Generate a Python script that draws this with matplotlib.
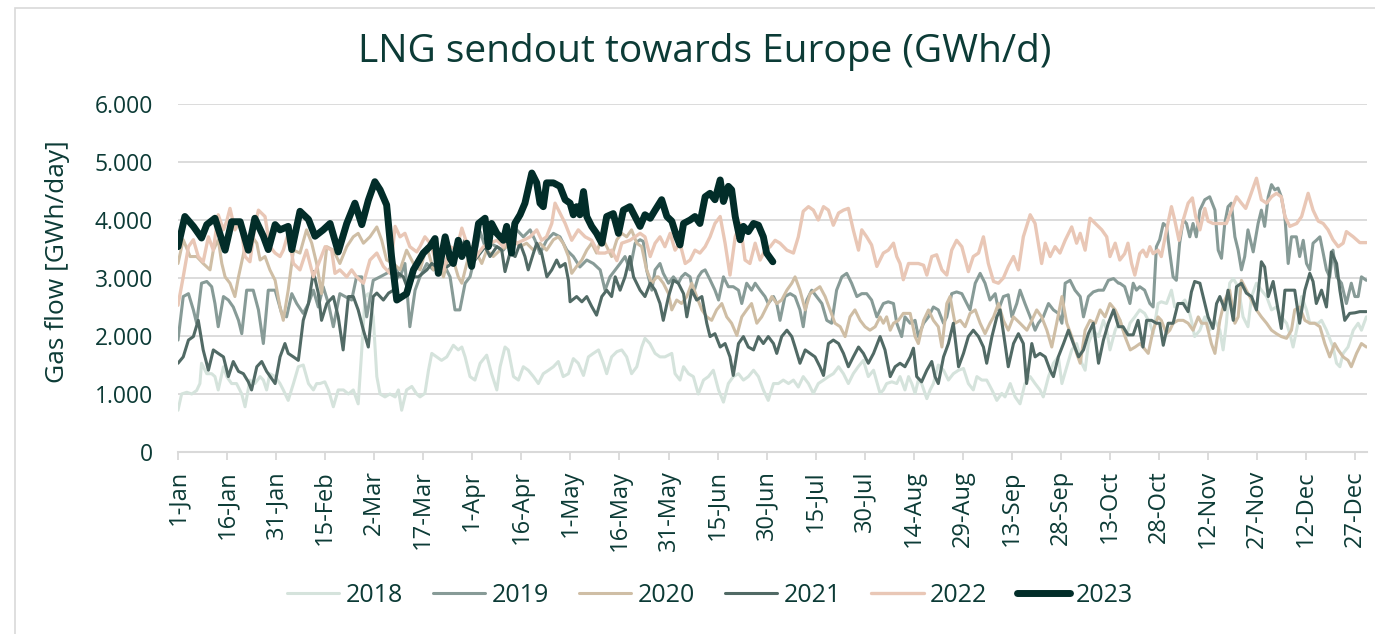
import matplotlib
matplotlib.use("Agg")
import matplotlib.pyplot as plt
from matplotlib.patches import Rectangle
from matplotlib.ticker import FuncFormatter

plt.rcParams['font.family'] = ['Open Sans', 'DejaVu Sans']

# day of year (0 = 1-Jan) and sendout in GWh/d
days_2018 = [0, 1.1, 2.7, 4.2, 5.7, 6.7, 7.2, 8.8, 10.3, 11.3, 12.3, 13.9, 14.9, 16.4, 17.9, 19.5, 20.5, 22, 23.5, 25.1,
             26.1, 27.1, 28.1, 29.7, 31.2, 32.2, 33.7, 35.3, 36.8, 38.3, 39.9, 41.4, 42.4, 43.4, 44.9, 46, 47.5, 49, 50.6, 52.1,
             53.6, 55.1, 56.2, 57.2, 58.2, 59.7, 60.8, 61.8, 63.3, 64.8, 66.4, 67.4, 68.4, 69.9, 71.5, 73, 74,
             75.5, 76.6, 77.6, 79.1, 80.6, 82.2, 84.2, 85.7, 86.8, 87.8, 89.3, 90.8, 92.4, 94.4, 95.9, 97.5, 98.5, 100, 101, 102.6,
             104.1, 105.6, 107.1, 108.7, 110.2, 111.7, 113.3, 114.8, 116.3, 117.8, 119.4, 120.9, 122.4, 124, 125.5, 127, 128.6, 130.1, 131.1, 132.6,
             134.2, 135.7, 137.2, 138.7, 140.3, 141.8, 142.8, 144.3, 145.9, 147.4,
             148.9, 151, 152, 153.5, 154.6, 156.1, 157.6, 159.1, 160.7, 162.2, 163.7, 165.3, 166.8, 168.3, 169.8, 171.4, 172.9, 174.4, 176, 177.5,
             179, 180.5, 182.1, 183.6, 185.1, 186.7, 188.2, 189.7, 191.2, 192.8, 194.3, 195.8, 197.4, 198.9, 200.4, 202, 203.5, 205, 206.5, 208,
             209.6, 211.1, 212.7,
             214.7, 215.7, 216.7, 218.3, 219.8, 220.8, 222.3, 223.4, 224.4, 225.4, 226.4, 227.4, 229, 230, 231, 232.5, 234.1, 235.6, 237.1, 238.7,
             240.2, 241.7, 243.2, 244.3, 245.8, 247.3, 248.9, 250.4, 251.9, 252.9, 254.5, 256, 257.5, 259, 260.6, 262.1, 263.6, 264.6, 266.2, 267.7,
             269.2, 270.3, 271.8, 273.3, 274.8, 276.4, 277.4, 278.4, 279.9, 281.5, 283, 284, 285, 286.6, 288.1,
             289, 290, 291.1, 292.6, 294.1, 295.6, 297.2, 298.2, 299.7, 300.7, 302.3, 303.8, 304.8, 305.8, 306.9, 307.9, 308.9, 309.9, 310.9, 312.5,
             314, 315.5, 317.1, 318.6, 319.6, 320.6, 321.6, 322.7, 324.2, 325.7, 327.2, 328.3, 329.8, 331.3, 332.9, 334.4, 335.9, 337.4, 339, 340,
             341, 342.5, 343.6, 345.1, 346.1, 347.6, 348.7, 349.7, 351.2, 353.2, 354.3, 355.3, 356.3, 357.8, 359.4, 360.9, 361.9, 363.4]
gwh_2018 = [720, 1000, 1030, 1000, 1060, 1180, 1530, 1350, 1350, 1300, 1070, 1470, 1300, 1180, 1180, 1000, 780, 1240, 1180, 1300,
            1240, 1070, 1350, 1300, 1180, 1070, 890, 1180, 1470, 1500, 1180, 1070, 1180, 1180, 1210, 1070, 780, 1070, 1070, 1000,
            1070, 830, 1760, 2680, 2730, 2330, 1300, 1000, 950, 1000, 950, 1070, 720, 1070, 1130, 1000, 950,
            1010, 1410, 1700, 1640, 1580, 1640, 1840, 1760, 1810, 1640, 1300, 1240, 1530, 1670, 1350, 1070, 1470, 1810, 1760, 1300,
            1240, 1470, 1410, 1300, 1180, 1350, 1410, 1470, 1560, 1300, 1350, 1610, 1530, 1320, 1640, 1700, 1760, 1530, 1350, 1640,
            1730, 1760, 1640, 1350, 1470, 1810, 1960, 1870, 1700, 1640,
            1640, 1700, 1350, 1240, 1470, 1350, 1300, 1000, 1240, 1300, 1410, 1070, 860, 1180, 1300, 1350, 1240, 1300, 1410, 1300,
            1070, 890, 1180, 1180, 1240, 1180, 1240, 1120, 1300, 1180, 1010, 1180, 1240, 1300, 1350, 1470, 1350, 1180, 1350, 1470,
            1580, 1300, 1410,
            1010, 1070, 1180, 1210, 1180, 1300, 1070, 1300, 1180, 1010, 1240, 1180, 920, 1070, 1180, 1500, 1410, 1240, 1350, 1410,
            1440, 1180, 1070, 1300, 1240, 1240, 1070, 890, 1010, 950, 1180, 950, 830, 1180, 1300, 1180, 1070, 950, 1300, 1530,
            1640, 1180, 1470, 1760, 1870, 1530, 1410, 1870, 2100, 1990, 2270, 2100, 1760, 2100, 2270,
            2100, 1990, 2220, 2330, 2450, 2390, 2220, 2040, 2560, 2590, 2560, 2790, 2500, 2560, 2560, 2620, 2500, 2270, 1990, 2100,
            2330, 2100, 2270, 2100, 1760, 2220, 2910, 2990, 2850, 2330, 2160, 2680, 2910, 2790, 2680, 2450, 2500, 2330, 2220, 2040,
            1810, 2220, 2680, 2450, 2220, 2220, 2220, 2270, 2100, 1810, 1530, 1470, 1700, 1810, 2100, 2220, 2100, 2330]

days_2019 = [0, 1.6, 3.2, 4.7, 5.7, 7.2, 8.8, 10.3, 11.3, 12.3, 13.9, 15.4, 16.9, 18.5, 19.5, 21, 23, 24.6, 26.1, 27.6,
             29.7, 31.7, 33.2, 34.8, 36.3, 38.3, 39.9, 41.4, 42.9, 44.4, 46, 47.5, 49.5, 51.1, 53.1, 54.6, 56.2, 57.7, 59.7, 61.8,
             63.8, 65.9, 67.9, 69.4, 70.9, 72.5, 74,
             76.1, 78.1, 80.1, 81.7, 83.2, 84.7, 86.2, 87.8, 89.3, 90.8, 92.4, 93.9, 95.4, 97.5, 99.5, 101.5, 103.6, 105.6, 107.7, 109.2,
             110.7, 112.7, 114.8, 116.8, 118.9, 120.9, 122.9, 125, 127, 129.1, 130.6, 132.1, 133.7, 135.2, 136.7, 138.2, 139.8,
             141.3, 142.3, 143.3, 144.9, 145.9, 147.4, 148.4, 150, 151.5, 153, 154, 155.1, 156.6, 157.6, 159.1, 160.2, 161.2, 162.7, 164.2, 165.3,
             166.8, 168.3, 169.8, 171.4, 172.4, 173.9, 175.4, 176.5, 178, 179.5, 180.5, 182.1, 183.1, 184.1, 185.6, 187.2, 188.7, 190.2, 191.2, 192.3,
             193.8, 195.3, 196.9, 198.4, 199.9, 201.4, 203, 204.5, 206, 207.6, 209.1, 210.6, 212.1, 213.7,
             214.7, 215.7, 217.2, 218.8, 219.8, 221.3, 222.3, 223.9, 225.4, 226.4, 228, 229.5, 231, 232.5, 234.1, 235.1, 236.6, 238.1, 239.7, 241.2,
             242.2, 243.8, 245.3, 246.8, 248.3, 249.9, 250.9, 252.4, 253.9, 255, 256.5, 257.5, 259, 260.6, 262.1, 263.1, 264.6, 266.2, 267.7, 269.2,
             270.3, 271.3, 272.8, 274.3, 275.9, 276.9, 278.4, 279.9, 281.5, 283, 284.5, 286.1, 287.6,
             288, 289.5, 291.1, 292.1, 293.1, 294.1, 295.6, 297.2, 298.2, 299.2, 300.2, 301.3, 302.3, 303.3, 304.3, 305.3, 306.3, 307.4, 308.4, 309.4,
             310.4, 311.4, 312.5, 314, 315.5, 317.1, 318.1, 319.1, 320.1, 321.1, 322.1, 323.2, 324.2, 325.2, 326.2, 327.2, 328.8, 330.3, 331.3, 332.3,
             333.4, 334.4, 335.4, 336.4, 337.4, 338.5, 339.5, 340.5, 342, 343, 344.1, 345.1, 346.1, 347.1, 348.1, 349.2, 350.2, 351.2, 352.2, 353.2,
             354.3, 355.8, 357.3, 358.8, 359.9, 360.9, 361.9, 363.4]
gwh_2019 = [1930, 2680, 2730, 2450, 2220, 2910, 2940, 2850, 2560, 2160, 2680, 2620, 2500, 2270, 2040, 2790, 2790, 2450, 1870, 2790,
            2790, 2390, 2330, 2730, 2560, 2390, 2560, 2790, 2500, 2850, 2560, 2160, 2730, 2680, 2620, 3020, 3020, 2330, 2960, 3020,
            3080, 3250, 3020, 3250, 2160, 2790, 3020,
            3250, 3140, 3250, 3190, 3020, 2450, 2450, 2910, 3020, 3370, 3800, 3540, 3600, 3540, 3480, 3650, 3830, 3710, 3830, 3650,
            3420, 3650, 3770, 3710, 3480, 3370, 3190, 3310, 3250, 3140, 2790, 3020, 3140, 3250, 3370, 3140, 3600,
            3660, 3630, 3140, 2790, 3140, 3250, 3080, 2910, 3020, 2910, 3020, 3080, 3020, 2730, 3020, 3110, 3140, 2970, 2790, 2620,
            3020, 2850, 2850, 2790, 2560, 2910, 2790, 2910, 2790, 2680, 2560, 2680, 2560, 2270, 2680, 2730, 2680, 2450, 2160, 2620,
            2790, 2680, 2560, 2270, 2220, 2790, 3020, 3080, 2910, 2680, 2730, 2730, 2620, 2330,
            2450, 2560, 2590, 2560, 2220, 1990, 2330, 2220, 2270, 1990, 2220, 2330, 2500, 2450, 2220, 2330, 2730, 2760, 2730, 2560,
            2450, 2910, 3080, 2910, 2620, 2730, 2450, 2680, 2710, 2330, 2560, 2790, 2560, 2330, 2100, 2220, 2330, 2560, 2450, 2390,
            2220, 2910, 2960, 2790, 2680, 2330, 2680, 2760, 2790, 2790, 2960, 2990, 2910,
            2910, 2850, 2560, 2910, 2790, 2850, 2790, 2560, 2500, 3540, 3660, 3940, 3890, 3430, 3020, 2960, 3600, 4000, 3940, 3710,
            3940, 3710, 4170, 4350, 4400, 4170, 3480, 3340, 3940, 4230, 4290, 3710, 3480, 3140, 3370, 3830, 3450, 3940, 4170, 3890,
            4400, 4610, 4520, 4550, 4400, 4060, 3250, 3710, 3710, 3370, 3650, 3250, 3140, 3600, 3650, 3710, 3430, 3140, 3020, 3480,
            3020, 2910, 2560, 2910, 2680, 2680, 3020, 2960]

days_2020 = [0, 1.6, 3.7, 5.7, 7.7, 9.8, 10.8, 12.3, 13.4, 14.4, 15.9, 17.4, 18.5, 20.5, 22, 24.1, 25.1, 26.6, 28.1, 29.7,
             31.2, 32.2, 33.7, 35.3, 37.3, 39.3, 40.9, 42.4, 43.9, 45.5, 47.5, 49.5, 51.6, 53.6, 55.1, 56.7, 58.7, 60.8, 62.3, 63.8,
             65.9, 67.9, 69.9, 72, 74,
             76.1, 78.1, 79.6, 81.2, 82.7, 84.2, 85.7, 86.8, 88.3, 89.8, 91.3, 92.9, 94.4, 96.4, 98.5, 100.5, 102.6, 104.6, 106.6, 108.7,
             110.7, 112.7, 114.8, 116.3, 117.8, 119.4, 120.4, 121.9, 123.5, 125, 126.5, 128, 129.6, 131.1, 132.6, 134.2, 135.7, 137.2, 138.7, 140.3,
             141.8, 143.3, 144.9, 146.4,
             146.9, 148.4, 150, 151, 152.5, 154, 155.6, 157.1, 158.6, 160.2, 161.7, 163.2, 164.7, 166.3, 167.8, 169.3, 170.9, 172.4, 173.9, 175.4,
             177, 178.5, 180, 181.6, 183.1, 184.6, 186.2, 187.7, 188.7, 190.2, 191.8, 193.3, 194.8, 196.3, 197.9, 199.4, 200.9, 202.5, 204, 205.5,
             207, 208.6, 210.1, 211.6, 213.2,
             214.7, 215.7, 216.7, 217.8, 218.8, 220.3, 221.8, 223.9, 225.4, 226.4, 228, 229.5, 231, 232.5, 233.6, 235.1, 236.1, 237.6, 239.2, 240.7,
             242.2, 243.8, 245.3, 246.8, 248.3, 249.4, 250.9, 252.4, 253.9, 255.5, 257.5, 259.6, 261.1, 262.6, 264.1, 265.7, 267.2, 268.7, 270.3, 271.8,
             273.3, 274.8, 275.9, 277.4, 278.9, 280.5, 282, 283.5, 285, 286.6, 288.1, 289.6, 291.2, 292.7, 294.2,
             295.1, 296.7, 298.2, 299.7, 300.7, 302.3, 303.3, 304.3, 305.8, 307.4, 308.9, 310.4, 312, 313, 314.5, 316, 317.1, 318.6, 320.1, 321.6,
             323.2, 324.2, 325.2, 326.7, 328.3, 329.8, 331.3, 332.9, 334.4, 335.9, 337.4, 339, 340.5, 341.5, 343, 344.6, 346.1, 347.6, 349.2, 350.7,
             352.2, 353.7, 354.8, 356.3, 357.8, 358.8, 360.4, 361.9, 363.4]
gwh_2020 = [3250, 3660, 3370, 3370, 3250, 3140, 3480, 3660, 3250, 3020, 2910, 2680, 3020, 3540, 3770, 3600, 3310, 3370, 3140, 2960,
            2500, 2270, 2790, 3480, 3430, 3830, 3600, 3250, 2730, 3540, 3480, 3250, 3540, 3710, 3770, 3600, 3710, 3880, 3650, 3310,
            3250, 3140, 3480, 3250, 3140,
            3540, 3140, 3250, 3020, 3370, 3310, 3020, 2910, 3250, 3540, 3430, 3250, 3480, 3370, 3480, 3540, 3660, 3540, 3600, 3480,
            3600, 3480, 3660, 3710, 3600, 3370, 3080, 3200, 3310, 3480, 3600, 3430, 3710, 3540, 3370, 3660, 3770, 3710, 3830, 3600,
            3540, 3140, 2910, 3020,
            3020, 2910, 2730, 2450, 2620, 2560, 2680, 2910, 2680, 2450, 2330, 2270, 2450, 2560, 2330, 2220, 2010, 2330, 2450, 2560,
            2220, 2330, 2500, 2680, 2560, 2620, 2790, 2910, 3020, 2790, 2450, 2730, 2790, 2850, 2680, 2450, 2220, 2160, 1990, 2330,
            2450, 2270, 2160, 2100, 2160,
            2330, 2220, 2330, 2100, 2220, 2270, 2390, 2390, 1990, 1870, 2270, 2450, 2270, 2160, 1810, 2560, 2680, 2220, 2270, 2160,
            2390, 2450, 2220, 2040, 2220, 2330, 2560, 2270, 2100, 2330, 2220, 2100, 2270, 2450, 2330, 2100, 1810, 2220, 2680, 2220,
            1990, 1700, 1530, 2100, 2270, 2220, 2450, 2330, 2560, 2450, 2270, 1990, 1760, 1810, 1870,
            1810, 1700, 2100, 2330, 2270, 2040, 2100, 2220, 2270, 2270, 2220, 2100, 2330, 2220, 2220, 1870, 1700, 2270, 2620, 2790,
            2220, 2330, 2960, 2790, 2620, 2450, 2330, 2220, 2100, 2040, 1990, 1960, 2100, 2450, 2500, 2270, 2220, 2220, 2160, 1870,
            1640, 1870, 1760, 1640, 1580, 1470, 1700, 1870, 1810]

days_2021 = [0, 1.6, 3.2, 4.7, 6.2, 7.7, 9.3, 10.8, 12.3, 13.9, 15.4, 16.9, 18.5, 20, 21.5, 22.5, 24.1, 25.6, 27.1, 29.7,
             31.2, 32.7, 33.7, 35.3, 36.8, 38.3, 39.9, 41.4, 42.9, 43.9, 45.5, 47.5, 49, 50.5, 52.1, 53.6, 55.1, 56.7, 58.2, 59.7,
             60.8, 62.8, 64.4, 65.9, 67.4, 68.9, 70.4, 72, 73.5,
             76.1, 77.6, 79.1, 80.6, 82.2, 83.7, 84.7, 86.2, 87.8, 89.3, 90.8, 92.4, 93.9, 95.4, 97.5, 99, 100, 101.5, 103.1, 104.6,
             106.1, 107.1, 108.7, 109.7, 111.2, 112.8, 114.3, 115.8, 116.8, 118.4, 119.4, 119.9, 121.9, 123.5, 125, 126.5, 128, 129.6, 131.1, 132.6,
             133.7, 135.2, 136.7, 138.2, 139.3,
             141.3, 142.8, 144.4, 145.9, 147.4, 148.4, 150, 151.5, 153, 154.6, 155.6, 157.1, 158.6, 160.2, 161.7, 162.7, 164.2, 165.8, 167.3, 168.8,
             169.8, 171.4, 172.9, 174.4, 176, 177.5, 179, 180.5, 182.1, 183.1, 184.6, 186.2, 187.7, 188.7, 190.2, 191.8, 193.3, 194.8, 196.3, 197.4,
             198.9, 200.4, 202, 203.5, 205, 206.5, 208.1, 209.6, 211.1, 212.7,
             214.7, 216.2, 217.8, 219.3, 220.8, 222.3, 223.9, 224.9, 225.9, 227.4, 229, 230.5, 231.5, 232.5, 234.1, 235.6, 237.1, 238.7, 240.2, 241.7,
             243.2, 244.8, 246.3, 247.3, 248.9, 250.4, 251.4, 252.9, 253.9, 255.5, 257, 258.5, 259.5, 261.1, 262.1, 263.6, 265.2, 266.7, 267.7, 269.2,
             270.8, 272.3, 273.8, 275.4, 276.9, 278.4, 279.9, 281.5, 283, 284.5, 286.1, 287.6,
             289, 290.5, 292.1, 293.6, 295.1, 296.2, 297.7, 299.2, 300.2, 301.3, 302.8, 304.3, 305.8, 307.4, 308.9, 309.9, 310.9, 312.5, 314, 315,
             316.5, 317.6, 318.6, 320.1, 321.1, 322.7, 323.7, 325.2, 326.7, 328.3, 329.8, 331.3, 332.3, 333.4, 334.9, 336.4, 337.4, 338.5, 340, 341.5,
             343, 344.6, 346.1, 347.1, 348.1, 349.7, 351.2, 352.7, 354.3, 355.3, 356.8, 358.3, 359.9, 361.4, 363.4]
gwh_2021 = [1530, 1640, 1930, 1990, 2270, 1760, 1410, 1760, 1700, 1640, 1300, 1560, 1390, 1350, 1210, 1070, 1470, 1560, 1390, 1180,
            1640, 1870, 1700, 1640, 1580, 2270, 2560, 3110, 2740, 2270, 2560, 2680, 2330, 1760, 2680, 2680, 2450, 2100, 1810, 2680,
            2740, 2620, 2740, 2790, 3080, 3020, 2790, 3020, 3020,
            3140, 3250, 3190, 3310, 3190, 3250, 3370, 3480, 3660, 3370, 3310, 3430, 3540, 3370, 3540, 3480, 3110, 3430, 3370, 3600,
            3370, 3140, 3430, 3600, 3430, 3020, 3140, 3310, 3190, 3250, 2960, 2590, 2680, 2590, 2680, 2510, 2360, 2680, 2790, 2680,
            3020, 2790, 3020, 3370, 3020,
            2790, 2680, 2910, 2790, 2560, 2270, 2680, 2960, 2910, 2730, 2330, 2790, 2620, 2680, 2220, 1990, 2040, 1810, 1870, 1640,
            1320, 1870, 1990, 1810, 1760, 1990, 1870, 1990, 1870, 1700, 1990, 2100, 1990, 1810, 1530, 1760, 1700, 1640, 1470, 1320,
            1870, 1930, 1870, 1700, 1470, 1640, 1810, 1700, 1530, 1700,
            1990, 1760, 1300, 1470, 1530, 1470, 1640, 1790, 1300, 1210, 1410, 1560, 1300, 1180, 1640, 1870, 2220, 1470, 1700, 1990,
            2100, 1990, 1810, 1530, 1990, 2330, 2450, 1870, 1470, 1870, 2040, 1870, 1180, 1870, 1640, 1700, 1640, 1410, 1300, 1640,
            1870, 2100, 1870, 1640, 1760, 2040, 2220, 1530, 1930, 2220, 2450, 2160,
            2160, 2020, 2020, 2270, 1810, 2270, 2270, 2220, 2220, 1840, 2220, 2220, 2560, 2560, 2420, 2760, 2940, 2910, 2560, 2330,
            2130, 2560, 2680, 2450, 2790, 2270, 2850, 2910, 2740, 2680, 2450, 3280, 3190, 2680, 2940, 2450, 2130, 2790, 2790, 2790,
            2220, 2790, 3080, 2940, 2560, 2790, 2500, 3450, 3250, 2790, 2270, 2390, 2400, 2420, 2420]

days_2022 = [0, 1.6, 3.2, 4.7, 6.2, 7.7, 9.3, 10.8, 12.3, 13.9, 14.9, 15.9, 17.4, 19, 20.5, 22, 23.5, 24.6, 26.6, 28.1,
             29.7, 31.2, 32.2, 33.7, 35.3, 37.3, 39.3, 41.4, 43.4, 45, 47, 48, 49.5, 51.6, 53.1, 54.6, 56.7, 58.7, 60.8, 62.8,
             64.8, 66.4, 67.9, 69.4, 70.9, 73,
             74, 75.5, 77.1, 79.1, 81.2, 83.2, 85.2, 86.8, 88.3, 89.8, 91.9, 93.4, 95.4, 97.5, 99.5, 101.5, 103.6, 105.6, 107.7, 109.7,
             111.2, 112.7, 114.3, 115.3, 116.8, 118.4, 120.4, 122.4, 124.5, 126.5, 128.6, 130.6, 132.6, 134.2, 135.7, 138.2,
             141.3, 142.8, 144.4, 145.9, 147.4, 148.9, 150.5, 152, 153.5, 155.1, 156.6, 158.1, 159.6, 161.2, 162.7, 164.2, 165.8, 167.3, 168.8, 170.4,
             171.9, 173.4, 174.9, 176.5, 178, 179.5, 181.1, 182.6, 184.1, 186.2, 188.2, 189.7, 191.2, 192.8, 194.3, 195.8, 197.4, 198.9, 200.4, 202,
             203.5, 205, 206.5, 208.1, 209.1, 210.6, 212.1, 213.7,
             215.7, 217.2, 218.8, 219.8, 220.8, 221.8, 223.4, 224.9, 226.4, 228, 229, 230.5, 232, 233.6, 235.1, 236.6, 238.1, 239.7, 241.7, 243.2,
             244.8, 246.3, 247.8, 249.4, 250.9, 252.4, 253.9, 255.5, 257, 258.5, 260.6, 262.1, 263.1, 264.1, 265.2, 266.7, 268.2, 269.7, 271.3, 273.3,
             274.8, 275.9, 277.4, 278.9, 280.5, 282.5, 284, 285, 286.6,
             288, 289.5, 290.5, 291.6, 292.6, 294.1, 295.1, 296.2, 297.2, 298.2, 299.7, 300.7, 302.3, 303.8, 304.8, 306.1, 307.4, 308.9, 310.2, 311.2,
             312.5, 314, 315, 316.5, 318.6, 320.6, 322.1, 323.7, 325.2, 326.5, 327.8, 329.8, 331.3, 332.9, 334.4, 335.9, 337.4, 338.5, 340, 342.1,
             343.6, 345.6, 347.1, 348.7, 350.2, 351.7, 353.2, 354.8, 356.3, 357.3, 359.4, 361.4, 363.4]
gwh_2022 = [2530, 3020, 3540, 3660, 3370, 3280, 3710, 3480, 4090, 3830, 3980, 4200, 3830, 3980, 3370, 3280, 3890, 4170, 4060, 3540,
            3430, 3370, 3480, 3770, 3250, 3140, 3480, 3020, 3310, 3540, 3480, 3080, 3140, 3020, 3140, 3020, 2910, 3310, 3430, 3200,
            3080, 3890, 3710, 3770, 3540, 3450,
            3540, 3710, 3600, 3250, 3140, 3540, 3480, 3860, 3600, 3250, 3430, 3540, 3600, 3650, 3540, 3710, 3600, 3650, 3710, 3830,
            3650, 3710, 3940, 4290, 4120, 3940, 3650, 3830, 3710, 3650, 3430, 3430, 3480, 3300, 3600, 3650,
            3770, 3710, 3370, 3600, 3710, 3540, 3770, 3480, 3600, 3250, 3310, 3480, 3430, 3540, 3710, 3940, 4060, 3600, 3050, 3710,
            3940, 3310, 3250, 3600, 3310, 3480, 3540, 3650, 3600, 3480, 3430, 3710, 4150, 4230, 4170, 4000, 4230, 4170, 3910, 4120,
            4170, 4200, 3830, 3480, 3830, 3710, 3570, 3200,
            3430, 3480, 3600, 3370, 3250, 2970, 3250, 3250, 3250, 3220, 3050, 3370, 3400, 3140, 3050, 3480, 3650, 3540, 3110, 3370,
            3430, 3710, 3250, 2940, 2910, 3000, 3200, 3370, 3140, 3710, 4090, 3940, 3600, 3250, 3600, 3370, 3540, 3430, 3650, 3880,
            3600, 3770, 3480, 4030, 3940, 3830, 3710, 3370, 3600,
            3310, 3420, 3600, 3250, 3050, 3420, 3480, 3370, 3540, 3420, 3480, 3370, 3830, 4230, 4000, 3650, 4000, 4290, 4380, 4060,
            3830, 4200, 3980, 3940, 3940, 3940, 4170, 4400, 4290, 4200, 4400, 4720, 4350, 4290, 4400, 4460, 4400, 4060, 3890, 3940,
            4060, 4460, 4170, 3980, 3940, 3830, 3660, 3540, 3600, 3800, 3710, 3610, 3610]

days_2023 = [0, 2.1, 4.7, 7.2, 8.8, 11.3, 14.4, 16.4, 19, 21.5, 23.5, 26.1, 27.6, 29.7, 31.2, 33.7, 34.8, 37.3, 39.9, 41.9,
             44.4, 46.5, 49, 51.6, 54.1, 56.2, 58.2, 60.2, 61.8, 63.8, 65.3, 66.9, 69.9, 72,
             75, 77, 78.6, 79.6, 81.7, 83.2, 84.2, 85.7, 86.8, 88.3, 89.8, 91.9, 93.9, 94.9, 95.9, 97.5, 99.5, 100.5, 102, 103,
             104.6, 106.1, 108.2, 109.7, 110.7, 111.7, 112.7, 114.8, 116.8, 118.4, 119.9, 120.9, 121.9, 122.9, 124, 125, 126.5, 128, 129.6, 131.1,
             133.1, 134.7, 136.2, 138.2,
             141.3, 142.8, 144.4, 145.9, 147.9, 149.5, 151, 152.5, 153.5, 154.6, 156.6, 158.1, 159.6, 161.2, 162.7, 164.2, 165.8, 166.8, 168.3, 169.3,
             170.4, 171.9, 172.9, 174.4, 176, 177.5, 179, 180, 181.9]
gwh_2023 = [3540, 4060, 3890, 3690, 3920, 4030, 3480, 3970, 3970, 3480, 4030, 3720, 3490, 3920, 3830, 3890, 3490, 4150, 4010, 3720,
            3830, 3940, 3450, 3940, 4290, 3920, 4340, 4660, 4520, 4260, 3370, 2620, 2730, 3140,
            3430, 3540, 3680, 3080, 3710, 3340, 3250, 3650, 3370, 3600, 3200, 3940, 4030, 3540, 3940, 3770, 3650, 3890, 3430, 3940,
            4090, 4290, 4810, 4640, 4290, 4230, 4640, 4640, 4580, 4350, 4290, 4090, 4230, 4090, 4490, 4060, 3890, 3770, 3600, 4060,
            4110, 3770, 4170, 4230,
            3890, 4090, 4030, 4170, 4350, 4060, 3980, 3710, 3570, 3940, 4000, 4060, 3940, 4400, 4460, 4350, 4690, 4320, 4580, 4520,
            4060, 3660, 3890, 3800, 3940, 3910, 3710, 3430, 3280]

tick_labels = ['1-Jan', '16-Jan', '31-Jan', '15-Feb', '2-Mar', '17-Mar', '1-Apr', '16-Apr', '1-May', '16-May',
               '31-May', '15-Jun', '30-Jun', '15-Jul', '30-Jul', '14-Aug', '29-Aug', '13-Sep', '28-Sep', '13-Oct',
               '28-Oct', '12-Nov', '27-Nov', '12-Dec', '27-Dec']

text_col = '#0C3B36'
grid_col = '#D9D9D9'

fig = plt.figure(figsize=(13.75, 6.34), dpi=100)
ax = fig.add_axes([178 / 1375, 182 / 634, 1189 / 1375, 348 / 634])

series = [
    ('2018', days_2018, gwh_2018, '#D5E3DC', 2.2),
    ('2019', days_2019, gwh_2019, '#879B97', 2.2),
    ('2020', days_2020, gwh_2020, '#CFBEA5', 2.2),
    ('2021', days_2021, gwh_2021, '#516A65', 2.2),
    ('2022', days_2022, gwh_2022, '#E9C7B6', 2.4),
    ('2023', days_2023, gwh_2023, '#022D29', 5.0),
]
for name, d, v, c, lw in series:
    ax.plot(d, v, color=c, lw=lw, label=name, solid_capstyle='round', solid_joinstyle='round')

ax.set_xlim(0, 363.6)
ax.set_ylim(0, 6000)
ax.set_yticks(range(0, 6001, 1000))
ax.yaxis.set_major_formatter(FuncFormatter(lambda v, p: f'{v:,.0f}'.replace(',', '.')))
ax.set_xticks([15 * i for i in range(len(tick_labels))])
ax.set_xticklabels(tick_labels, rotation=90)

ax.grid(axis='y', color=grid_col, lw=1.3)
ax.set_axisbelow(True)
for s in ['top', 'right', 'left']:
    ax.spines[s].set_visible(False)
ax.spines['bottom'].set_color(grid_col)
ax.spines['bottom'].set_linewidth(1.5)

ax.tick_params(axis='y', length=0, pad=18, labelsize=16.5, labelcolor=text_col)
ax.tick_params(axis='x', length=6, width=1.3, color=grid_col, pad=7, labelsize=17, labelcolor=text_col)

fig.text(705 / 1375, 1 - 52 / 634, 'LNG sendout towards Europe (GWh/d)', fontsize=28,
         color=text_col, ha='center', va='center')
fig.text(57 / 1375, 1 - 262 / 634, 'Gas flow [GWh/day]', fontsize=19, rotation=90,
         color=text_col, ha='center', va='center')

fig.legend(loc='center', bbox_to_anchor=(710 / 1375, 1 - 595 / 634), ncol=6, frameon=False,
           fontsize=18, handlelength=2.1, handletextpad=0.25, columnspacing=1.2, labelcolor=text_col)

fig.add_artist(Rectangle((15 / 1375, -0.1), 1.2, 1.1 - 8 / 634, transform=fig.transFigure,
                         fill=False, edgecolor=grid_col, lw=1.2))

fig.savefig('out.png', dpi=100)
